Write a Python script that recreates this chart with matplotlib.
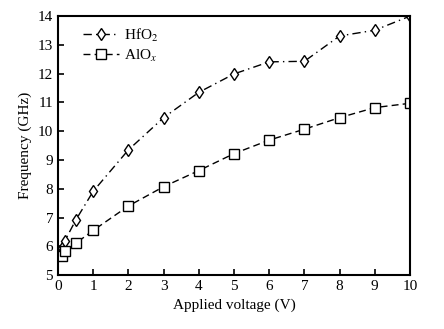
import matplotlib.pyplot as plt

# data
volt_hf = [0.1, 0.2, 0.5, 1, 2, 3, 4, 5, 6, 7, 8, 9, 10]
freq_hf = [5.93, 6.2, 6.9, 7.91, 9.35, 10.47, 11.35, 11.99, 12.41, 12.43, 13.31, 13.51, 14.0]

volt_al = [0.1, 0.2, 0.5, 1, 2, 3, 4, 5, 6, 7, 8, 9, 10]
freq_al = [5.67, 5.82, 6.1, 6.55, 7.4, 8.07, 8.63, 9.22, 9.69, 10.07, 10.47, 10.82, 10.97]

xticks = list(range(0, 11))
yticks = list(range(5, 15))

plt.rcParams['font.family'] = ['Liberation Serif', 'DejaVu Serif']
plt.rcParams['mathtext.fontset'] = 'stix'

fig = plt.figure(figsize=(4.44, 3.29), dpi=100)
ax = fig.add_axes([0.1306, 0.164, 0.7928, 0.787])

ax.plot(volt_hf, freq_hf, color='black', lw=1.0, ls=(0, (6, 3, 1, 3)),
        marker='d', markersize=6, markerfacecolor='white', markeredgewidth=1.0,
        label=r'HfO$_2$')
ax.plot(volt_al, freq_al, color='black', lw=1.0, ls=(0, (5, 3)),
        marker='s', markersize=6.5, markerfacecolor='white', markeredgewidth=1.0,
        label=r'AlO$_x$')

ax.set_xlim(0, 10)
ax.set_ylim(5, 14)
ax.set_xticks(xticks)
ax.set_yticks(yticks)
ax.tick_params(direction='in', length=4, width=1.2, labelsize=11)
for s in ax.spines.values():
    s.set_linewidth(1.5)

ax.set_xlabel('Applied voltage (V)', fontsize=11)
ax.set_ylabel('Frequency (GHz)', fontsize=11)

ax.legend(loc='upper left', bbox_to_anchor=(0.04, 1.0), frameon=False,
          fontsize=11, handlelength=2.4, borderaxespad=0.3,
          labelspacing=0.25, handletextpad=0.3)

fig.savefig('out.png', dpi=100)
